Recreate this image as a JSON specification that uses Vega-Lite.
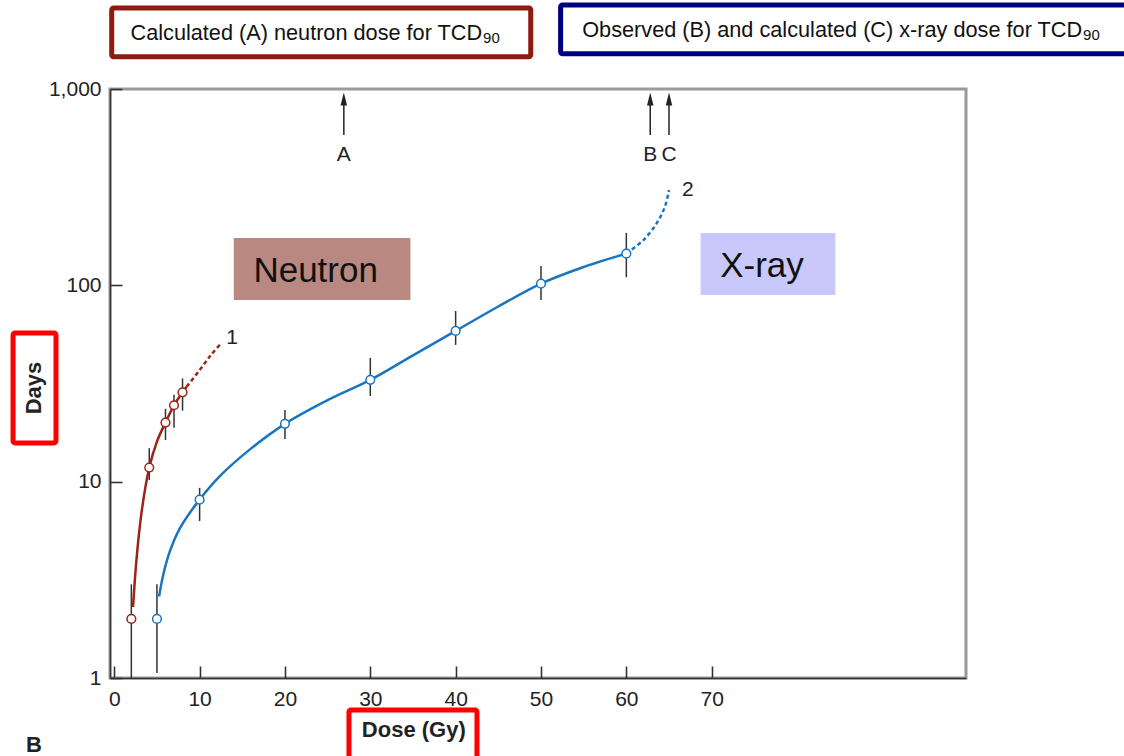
{
  "$schema": "https://vega.github.io/schema/vega-lite/v6.json",
  "width": 856,
  "height": 589,
  "autosize": "none",
  "padding": {"left": 110, "top": 89, "right": 158, "bottom": 78},
  "background": "white",
  "config": {
    "view": {"stroke": "#9a9a9a", "strokeWidth": 3},
    "font": "Liberation Sans",
    "axis": {"grid": false, "zindex": 2, "ticks": true, "domainColor": "#333333", "domainWidth": 1.5, "tickColor": "#333333", "tickWidth": 1.6, "labelFont": "Liberation Sans", "labelFontSize": 21, "labelColor": "#222222"}
  },
  "resolve": {"scale": {"stroke": "independent"}},
  "datasets": {
    "points": [
      {"series": "Neutron", "dose": 2, "days": 2.0, "lo": 1, "hi": 3.0},
      {"series": "Neutron", "dose": 4.1, "days": 11.8, "lo": 10.2, "hi": 14.8},
      {"series": "Neutron", "dose": 6, "days": 20, "lo": 16.3, "hi": 23.5},
      {"series": "Neutron", "dose": 7, "days": 24.5, "lo": 18.8, "hi": 27.7},
      {"series": "Neutron", "dose": 8, "days": 28.5, "lo": 23.0, "hi": 33.6},
      {"series": "X-ray", "dose": 5, "days": 2.0, "lo": 1.06, "hi": 3.0},
      {"series": "X-ray", "dose": 10, "days": 8.1, "lo": 6.3, "hi": 9.3},
      {"series": "X-ray", "dose": 20, "days": 19.7, "lo": 16.5, "hi": 23.2},
      {"series": "X-ray", "dose": 30, "days": 33, "lo": 27.3, "hi": 42.7},
      {"series": "X-ray", "dose": 40, "days": 58.6, "lo": 49.7, "hi": 74},
      {"series": "X-ray", "dose": 50, "days": 102, "lo": 84.3, "hi": 125.6},
      {"series": "X-ray", "dose": 60, "days": 145, "lo": 110, "hi": 185}
    ],
    "curves": [
      {"series": "Neutron", "part": "solid", "dose": 2.2, "days": 2.3},
      {"series": "Neutron", "part": "solid", "dose": 2.6, "days": 4.0},
      {"series": "Neutron", "part": "solid", "dose": 3.2, "days": 7.0},
      {"series": "Neutron", "part": "solid", "dose": 4.1, "days": 11.8},
      {"series": "Neutron", "part": "solid", "dose": 5, "days": 16},
      {"series": "Neutron", "part": "solid", "dose": 6, "days": 20},
      {"series": "Neutron", "part": "solid", "dose": 7, "days": 24.5},
      {"series": "Neutron", "part": "solid", "dose": 8, "days": 28.5},
      {"series": "Neutron", "part": "solid", "dose": 8.5, "days": 30.5},
      {"series": "Neutron", "part": "dashed", "dose": 8.5, "days": 30.5},
      {"series": "Neutron", "part": "dashed", "dose": 10, "days": 37},
      {"series": "Neutron", "part": "dashed", "dose": 11.3, "days": 44},
      {"series": "Neutron", "part": "dashed", "dose": 12.4, "days": 50},
      {"series": "X-ray", "part": "solid", "dose": 5.25, "days": 2.6},
      {"series": "X-ray", "part": "solid", "dose": 5.7, "days": 3.3},
      {"series": "X-ray", "part": "solid", "dose": 6.5, "days": 4.4},
      {"series": "X-ray", "part": "solid", "dose": 7.7, "days": 5.8},
      {"series": "X-ray", "part": "solid", "dose": 10, "days": 8.1},
      {"series": "X-ray", "part": "solid", "dose": 12.4, "days": 10.7},
      {"series": "X-ray", "part": "solid", "dose": 15.9, "days": 14.6},
      {"series": "X-ray", "part": "solid", "dose": 20, "days": 19.7},
      {"series": "X-ray", "part": "solid", "dose": 25, "days": 26},
      {"series": "X-ray", "part": "solid", "dose": 30, "days": 33},
      {"series": "X-ray", "part": "solid", "dose": 35, "days": 44},
      {"series": "X-ray", "part": "solid", "dose": 40, "days": 58.6},
      {"series": "X-ray", "part": "solid", "dose": 45, "days": 78},
      {"series": "X-ray", "part": "solid", "dose": 50, "days": 102},
      {"series": "X-ray", "part": "solid", "dose": 55, "days": 124},
      {"series": "X-ray", "part": "solid", "dose": 60, "days": 145},
      {"series": "X-ray", "part": "dashed", "dose": 60, "days": 145},
      {"series": "X-ray", "part": "dashed", "dose": 62, "days": 170},
      {"series": "X-ray", "part": "dashed", "dose": 63.5, "days": 205},
      {"series": "X-ray", "part": "dashed", "dose": 64.5, "days": 250},
      {"series": "X-ray", "part": "dashed", "dose": 65, "days": 306}
    ],
    "arrows": [
      {"label": "A", "dose": 26.9, "from": 583, "to": 830, "head": 890, "labelY": 461},
      {"label": "B", "dose": 62.8, "from": 583, "to": 830, "head": 890, "labelY": 461},
      {"label": "C", "dose": 65.0, "from": 583, "to": 830, "head": 890, "labelY": 461}
    ],
    "bgboxes": [
      {"name": "Neutron", "x1": 14.0, "x2": 34.7, "y1": 84.3, "y2": 174, "tx": 23.6, "ty": 119},
      {"name": "X-ray", "x1": 68.7, "x2": 84.5, "y1": 89.4, "y2": 185, "tx": 75.9, "ty": 125.6}
    ],
    "frames": [
      {"name": "neutron", "x1": -0.3, "x2": 48.8, "y1": 1458, "y2": 2588},
      {"name": "xray", "x1": 52.3, "x2": 122, "y1": 1510, "y2": 2681},
      {"name": "days", "x1": -11.86, "x2": -6.83, "y1": 15.75, "y2": 57.2},
      {"name": "dose", "x1": 27.5, "x2": 42.5, "y1": 0.382, "y2": 0.687}
    ],
    "toplabels": [
      {"text": "Calculated (A) neutron dose for TCD", "sub": "90", "x": 43.1, "y": 1932},
      {"text": "Observed (B) and calculated (C) x-ray dose for TCD", "sub": "90", "x": 113.4, "y": 2000}
    ],
    "curvelabels": [
      {"text": "1", "x": 13.8, "y": 54},
      {"text": "2", "x": 67.2, "y": 306}
    ]
  },
  "layer": [
    {
      "data": {"name": "frames"},
      "mark": {"type": "rect", "fill": "white", "strokeWidth": 5, "cornerRadius": 2},
      "encoding": {
        "x": {"field": "x1", "type": "quantitative", "scale": {"domain": [-0.5, 99.8], "nice": false, "zero": false}, "axis": {"values": [0, 10, 20, 30, 40, 50, 60, 70], "tickSize": -12, "labelPadding": 22, "title": null}},
        "x2": {"field": "x2"},
        "y": {"field": "y1", "type": "quantitative", "scale": {"type": "log", "domain": [1, 1000], "nice": false}, "axis": {"values": [1, 10, 100, 1000], "format": ",d", "tickSize": -12, "labelPadding": 21, "title": null}},
        "y2": {"field": "y2"},
        "stroke": {"field": "name", "type": "nominal", "scale": {"domain": ["neutron", "xray", "days", "dose"], "range": ["#8e1b10", "#00007f", "#ff0000", "#ff0000"]}, "legend": null}
      }
    },
    {
      "data": {"name": "bgboxes"},
      "mark": {"type": "rect"},
      "encoding": {
        "x": {"field": "x1", "type": "quantitative"},
        "x2": {"field": "x2"},
        "y": {"field": "y1", "type": "quantitative"},
        "y2": {"field": "y2"},
        "fill": {"field": "name", "type": "nominal", "scale": {"domain": ["Neutron", "X-ray"], "range": ["#b98880", "#c8c8fa"]}, "legend": null}
      }
    },
    {
      "data": {"name": "bgboxes"},
      "mark": {"type": "text", "fontSize": 35, "color": "#111111", "align": "center", "baseline": "middle"},
      "encoding": {
        "x": {"field": "tx", "type": "quantitative"},
        "y": {"field": "ty", "type": "quantitative"},
        "text": {"field": "name"}
      }
    },
    {
      "data": {"name": "toplabels"},
      "mark": {"type": "text", "fontSize": 21.7, "color": "#111111", "align": "right", "baseline": "middle"},
      "encoding": {
        "x": {"field": "x", "type": "quantitative"},
        "y": {"field": "y", "type": "quantitative"},
        "text": {"field": "text"}
      }
    },
    {
      "data": {"name": "toplabels"},
      "mark": {"type": "text", "fontSize": 15, "color": "#111111", "align": "left", "baseline": "middle", "dx": 1, "dy": 5},
      "encoding": {
        "x": {"field": "x", "type": "quantitative"},
        "y": {"field": "y", "type": "quantitative"},
        "text": {"field": "sub"}
      }
    },
    {
      "data": {"values": [{"text": "Days", "x": -9.4, "y": 30}]},
      "mark": {"type": "text", "fontSize": 22, "fontWeight": "bold", "angle": 270, "color": "#222222", "align": "center", "baseline": "middle"},
      "encoding": {
        "x": {"field": "x", "type": "quantitative"},
        "y": {"field": "y", "type": "quantitative"},
        "text": {"field": "text"}
      }
    },
    {
      "data": {"values": [{"text": "Dose (Gy)", "x": 35.1, "y": 0.543}, {"text": "B", "x": -9.4, "y": 0.456}]},
      "mark": {"type": "text", "fontSize": 22, "fontWeight": "bold", "color": "#222222", "align": "center", "baseline": "middle"},
      "encoding": {
        "x": {"field": "x", "type": "quantitative"},
        "y": {"field": "y", "type": "quantitative"},
        "text": {"field": "text"}
      }
    },
    {
      "data": {"name": "arrows"},
      "mark": {"type": "rule", "color": "#222222", "strokeWidth": 1.5},
      "encoding": {
        "x": {"field": "dose", "type": "quantitative"},
        "y": {"field": "from", "type": "quantitative"},
        "y2": {"field": "to"}
      }
    },
    {
      "data": {"name": "arrows"},
      "mark": {"type": "point", "shape": "M0,-1L0.5,1L-0.5,1Z", "filled": true, "color": "#222222", "size": 169, "opacity": 1},
      "encoding": {
        "x": {"field": "dose", "type": "quantitative"},
        "y": {"field": "head", "type": "quantitative"}
      }
    },
    {
      "data": {"name": "arrows"},
      "mark": {"type": "text", "fontSize": 21, "color": "#222222", "align": "center", "baseline": "middle"},
      "encoding": {
        "x": {"field": "dose", "type": "quantitative"},
        "y": {"field": "labelY", "type": "quantitative"},
        "text": {"field": "label"}
      }
    },
    {
      "data": {"name": "points"},
      "mark": {"type": "rule", "color": "#333333", "strokeWidth": 1.5},
      "encoding": {
        "x": {"field": "dose", "type": "quantitative"},
        "y": {"field": "lo", "type": "quantitative"},
        "y2": {"field": "hi"}
      }
    },
    {
      "data": {"name": "curves"},
      "transform": [{"filter": "datum.part === 'solid'"}],
      "mark": {"type": "line", "strokeWidth": 2.5, "interpolate": "catmull-rom"},
      "encoding": {
        "x": {"field": "dose", "type": "quantitative"},
        "y": {"field": "days", "type": "quantitative"},
        "detail": {"field": "series"},
        "color": {"field": "series", "type": "nominal", "scale": {"domain": ["Neutron", "X-ray"], "range": ["#9b2318", "#1a75c0"]}, "legend": null}
      }
    },
    {
      "data": {"name": "curves"},
      "transform": [{"filter": "datum.part === 'dashed'"}],
      "mark": {"type": "line", "strokeWidth": 2.5, "interpolate": "catmull-rom", "strokeDash": [4, 3]},
      "encoding": {
        "x": {"field": "dose", "type": "quantitative"},
        "y": {"field": "days", "type": "quantitative"},
        "detail": {"field": "series"},
        "color": {"field": "series", "type": "nominal", "legend": null}
      }
    },
    {
      "data": {"name": "points"},
      "mark": {"type": "point", "shape": "circle", "filled": false, "fill": "white", "fillOpacity": 1, "strokeWidth": 1.5, "size": 75, "opacity": 1},
      "encoding": {
        "x": {"field": "dose", "type": "quantitative"},
        "y": {"field": "days", "type": "quantitative"},
        "stroke": {"field": "series", "type": "nominal", "scale": {"domain": ["Neutron", "X-ray"], "range": ["#9b2318", "#1a75c0"]}, "legend": null}
      }
    },
    {
      "data": {"name": "curvelabels"},
      "mark": {"type": "text", "fontSize": 21, "color": "#222222", "align": "center", "baseline": "middle"},
      "encoding": {
        "x": {"field": "x", "type": "quantitative"},
        "y": {"field": "y", "type": "quantitative"},
        "text": {"field": "text"}
      }
    }
  ]
}
